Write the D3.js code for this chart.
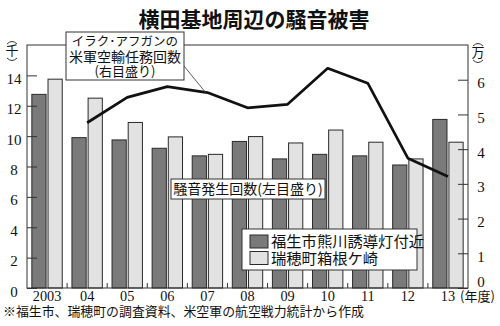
<!DOCTYPE html>
<html><head><meta charset="utf-8">
<script src="https://cdn.jsdelivr.net/npm/d3@7"></script>
<style>
html,body{margin:0;padding:0;background:#fff;}
svg{display:block;}
.jp{font-family:"Noto Sans CJK JP","Noto Sans",sans-serif;}
.num{font-family:"Liberation Serif","DejaVu Serif",serif;}
</style></head>
<body>
<svg id="c" width="500" height="326"></svg>
<script>
const years = ["2003","04","05","06","07","08","09","10","11","12","13"];
const fussa = [12.75, 9.9, 9.75, 9.2, 8.7, 9.65, 8.5, 8.8, 8.7, 8.1, 11.1];   // 福生市熊川誘導灯付近 (千回)
const mizuho = [13.75, 12.5, 10.9, 9.95, 8.8, 9.97, 9.55, 10.4, 9.6, 8.5, 9.6]; // 瑞穂町箱根ケ崎 (千回)
const missions = [null, 4.76, 5.49, 5.80, 5.63, 5.19, 5.29, 6.33, 5.90, 3.74, 3.21]; // 万回
const leftTicks = [0,2,4,6,8,10,12,14];
const rightTicks = [0,1,2,3,4,5,6];
const seriesNames = ["福生市熊川誘導灯付近","瑞穂町箱根ケ崎"];
const seriesColors = ["#7a7a7a","#e2e2e2"];

const svg = d3.select("#c");
const L = 27, R = 468, T = 45, B = 288;

const x = d3.scaleBand().domain(years).range([L, R]).padding(0);
const xi = d3.scaleBand().domain([0,1]).range([0, x.bandwidth()]).paddingInner(0.12).paddingOuter(0.3);
const yL = d3.scaleLinear().domain([0,16]).range([B, T]);
const yR = d3.scaleLinear().domain([0,7]).range([B, T]);

// title
svg.append("text").attr("class","jp").attr("x",254).attr("y",27)
  .attr("text-anchor","middle").attr("font-size",21).attr("font-weight","bold")
  .attr("fill","#111").text("横田基地周辺の騒音被害");

// bars
const rows = years.map((yv,i)=>({year:yv, vals:[fussa[i], mizuho[i]]}));
const g = svg.append("g");
rows.forEach(r=>{
  r.vals.forEach((v,k)=>{
    g.append("rect")
      .attr("x", x(r.year)+xi(k)).attr("width", xi.bandwidth())
      .attr("y", yL(v)).attr("height", B - yL(v))
      .attr("fill", seriesColors[k]).attr("stroke","#2a2a2a").attr("stroke-width",1);
  });
});

// frame
svg.append("rect").attr("x",L).attr("y",T).attr("width",R-L).attr("height",B-T)
  .attr("fill","none").attr("stroke","#333").attr("stroke-width",1);

// left axis
const axL = svg.append("g").attr("transform",`translate(${L},0)`)
  .call(d3.axisLeft(yL).tickValues(leftTicks).tickSize(-10).tickFormat(d3.format("d")));
axL.select(".domain").remove();
axL.selectAll(".tick line").attr("stroke","#333");
axL.selectAll(".tick text").attr("class","num").attr("x",-13).attr("dy",null).attr("y",8)
  .attr("text-anchor","middle").attr("font-size",15).attr("fill","#111");

// right axis
const axR = svg.append("g").attr("transform",`translate(${R},0)`)
  .call(d3.axisRight(yR).tickValues(rightTicks).tickSize(-10).tickFormat(d3.format("d")));
axR.select(".domain").remove();
axR.selectAll(".tick line").attr("stroke","#333");
axR.selectAll(".tick text").attr("class","num").attr("x",13).attr("dy",null)
  .attr("y",d=> d===0 ? -2 : 8)
  .attr("text-anchor","middle").attr("font-size",15).attr("fill","#111");

// bottom axis
const axB = svg.append("g").attr("transform",`translate(0,${B})`)
  .call(d3.axisBottom(x).tickSize(0).tickPadding(4));
axB.select(".domain").remove();
axB.selectAll(".tick text").attr("class","num").attr("dy",null).attr("y",12.5)
  .attr("font-size",14.3).attr("fill","#111");
// small separators between years
svg.append("g").selectAll("line").data(years.slice(1)).join("line")
  .attr("x1",d=>x(d)).attr("x2",d=>x(d)).attr("y1",B-5).attr("y2",B)
  .attr("stroke","#333");
svg.append("text").attr("class","jp").attr("x",460).attr("y",300.5)
  .attr("font-size",13).attr("fill","#111").text("(年度)");

// line (right scale)
const line = d3.line().defined(d=>d.v!=null)
  .x(d=>x(d.year)+x.bandwidth()/2).y(d=>yR(d.v));
svg.append("path").datum(years.map((yv,i)=>({year:yv, v:missions[i]})))
  .attr("d",line).attr("fill","none").attr("stroke","#111").attr("stroke-width",2.7)
  .attr("stroke-linejoin","round");

// unit labels (vertical parentheses drawn as arcs)
function unit(cx, cy, ch){
  svg.append("path").attr("d",`M${cx-5},${cy-6} Q${cx},${cy-11} ${cx+5},${cy-6}`)
    .attr("fill","none").attr("stroke","#333").attr("stroke-width",1);
  svg.append("text").attr("class","jp").attr("x",cx).attr("y",cy+5).attr("text-anchor","middle")
    .attr("font-size",13).attr("fill","#111").text(ch);
  svg.append("path").attr("d",`M${cx-5},${cy+8} Q${cx},${cy+13} ${cx+5},${cy+8}`)
    .attr("fill","none").attr("stroke","#333").attr("stroke-width",1);
}
unit(12, 50, "千");
unit(478, 52, "万");

// annotation 1
svg.append("line").attr("x1",184).attr("y1",66).attr("x2",206).attr("y2",93)
  .attr("stroke","#333").attr("stroke-width",0.8);
svg.append("rect").attr("x",66).attr("y",32).attr("width",118).attr("height",48)
  .attr("fill","#fff").attr("stroke","#333").attr("stroke-width",1);
const a1 = svg.append("text").attr("class","jp").attr("text-anchor","middle").attr("fill","#111");
a1.append("tspan").attr("x",125).attr("y",46).attr("font-size",12.5).text("イラク･アフガンの");
a1.append("tspan").attr("x",125).attr("y",62).attr("font-size",14).text("米軍空輸任務回数");
a1.append("tspan").attr("x",125).attr("y",76).attr("font-size",13).text("(右目盛り)");

// annotation 2
svg.append("rect").attr("x",171).attr("y",179).attr("width",154).attr("height",20)
  .attr("fill","#fff").attr("stroke","#333").attr("stroke-width",1);
svg.append("text").attr("class","jp").attr("x",248).attr("y",194).attr("text-anchor","middle")
  .attr("font-size",14).attr("fill","#111").text("騒音発生回数(左目盛り)");

// legend
const lg = svg.append("g");
lg.append("rect").attr("x",242).attr("y",229).attr("width",175).attr("height",41)
  .attr("fill","#fff").attr("stroke","#333").attr("stroke-width",1);
seriesNames.forEach((n,k)=>{
  lg.append("rect").attr("x",250).attr("y",235+k*16.5).attr("width",18).attr("height",13)
    .attr("fill",seriesColors[k]).attr("stroke","#2a2a2a");
  lg.append("text").attr("class","jp").attr("x",271).attr("y",247+k*16.5)
    .attr("font-size",15.3).attr("fill","#111").text(n);
});

// footnote
svg.append("text").attr("class","jp").attr("x",3).attr("y",316)
  .attr("font-size",12.9).attr("fill","#111")
  .text("※福生市、瑞穂町の調査資料、米空軍の航空戦力統計から作成");
</script>
</body></html>
